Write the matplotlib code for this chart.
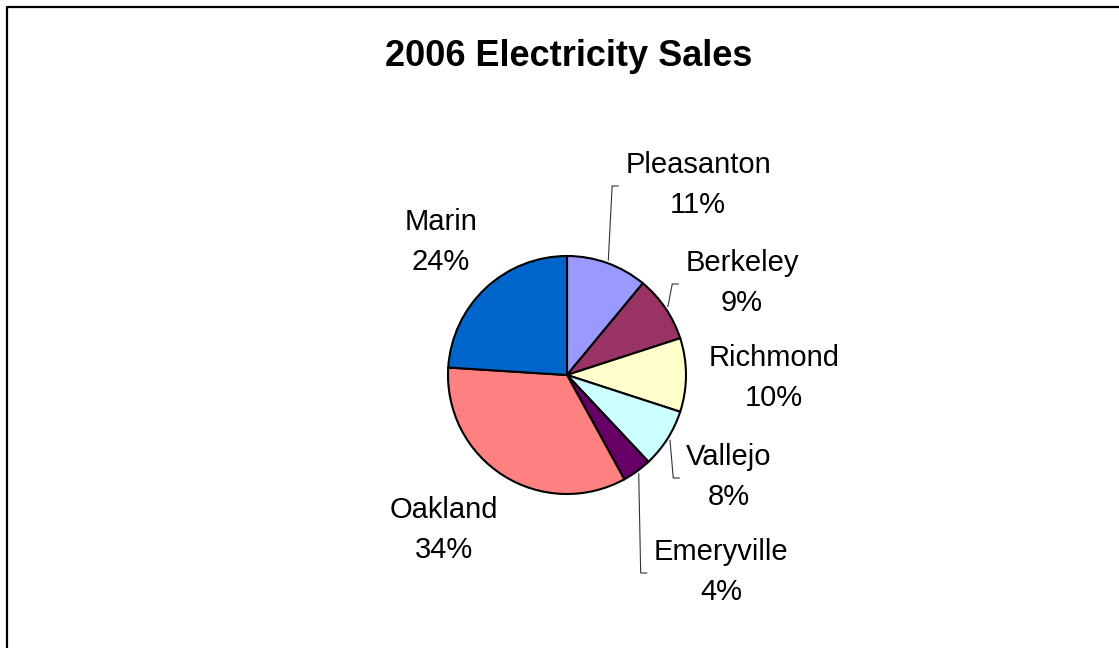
import numpy as np
import matplotlib.pyplot as plt

plt.rcParams['font.family'] = ['Liberation Sans', 'DejaVu Sans']

# data, clockwise from 12 o'clock
cities = ['Pleasanton', 'Berkeley', 'Richmond', 'Vallejo', 'Emeryville', 'Oakland', 'Marin']
shares = [11, 9, 10, 8, 4, 34, 24]
colors = ['#9999FF', '#993366', '#FFFFCC', '#CCFFFF', '#660066', '#FF8080', '#0066CC']

W, H = 1119, 648
fig = plt.figure(figsize=(W / 100, H / 100), dpi=100)
ax = fig.add_axes([0, 0, 1, 1])

cx, cy, r = 567, H - 375, 119
wedges, _ = ax.pie(shares, colors=colors, startangle=90, counterclock=False,
                   center=(cx, cy), radius=r,
                   wedgeprops=dict(edgecolor='black', linewidth=1.5))
ax.set_xlim(0, W)
ax.set_ylim(0, H)
ax.set_aspect('equal')
ax.axis('off')

# label centres (image pixels) and whether a leader line is drawn
label_pos = {
    'Pleasanton': (698, 185, True),
    'Berkeley': (742, 283, True),
    'Richmond': (774, 378, False),
    'Vallejo': (729, 477, True),
    'Emeryville': (721, 572, True),
    'Oakland': (444, 530, False),
    'Marin': (441, 242, False),
}

fig.canvas.draw()
renderer = fig.canvas.get_renderer()
for w, name, val in zip(wedges, cities, shares):
    lx, ly, leader = label_pos[name]
    t = ax.text(lx, H - ly, f'{name}\n{val}%', ha='center', va='center',
                multialignment='center', fontsize=21, linespacing=1.52)
    if leader:
        bb = t.get_window_extent(renderer).transformed(ax.transData.inverted())
        ang = np.deg2rad((w.theta1 + w.theta2) / 2)
        sx, sy = cx + (r + 3) * np.cos(ang), cy + (r + 3) * np.sin(ang)
        ex = bb.x0 - 7
        ax.plot([sx, ex - 6, ex], [sy, H - ly - 1, H - ly - 1],
                color='#333333', lw=0.8)

ax.text(569, H - 57, '2006 Electricity Sales', ha='center', va='center',
        fontsize=26, fontweight='bold')

# chart-area border (left and top edges visible)
ax.plot([7, 7, W + 5], [-5, H - 7, H - 7], color='black', lw=1.6,
        solid_capstyle='projecting')

fig.savefig('out.png', dpi=100)
